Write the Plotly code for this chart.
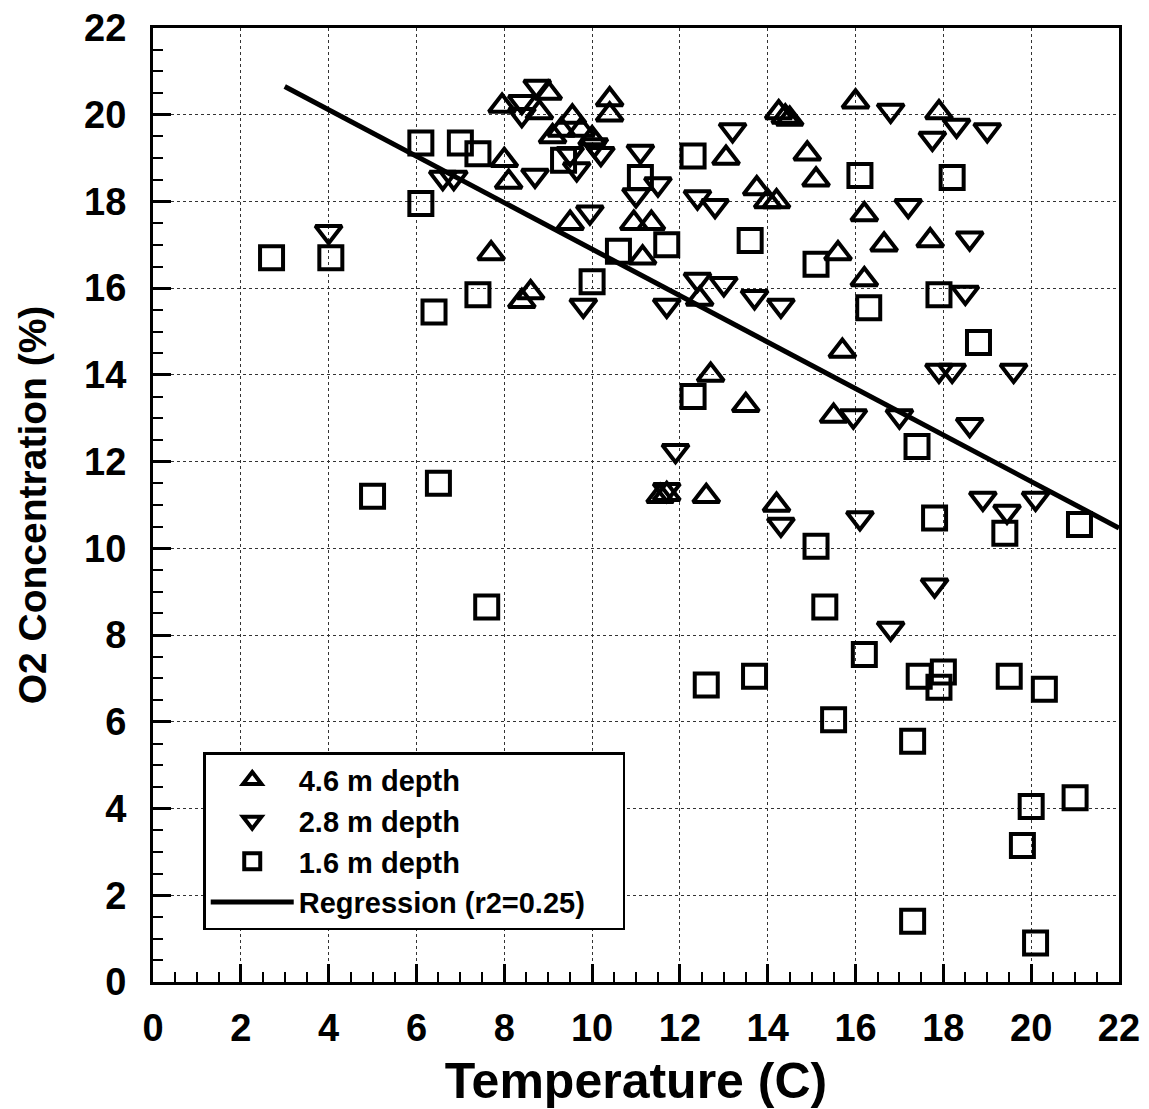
import plotly.graph_objects as go

# ---- data ----
up_x = [7.7, 7.95, 8.0, 8.1, 8.4, 8.6, 8.8, 9.0, 9.1, 9.3, 9.5, 9.55, 9.75, 10.0, 10.4, 10.4,
        10.95, 11.15, 11.35, 11.55, 11.7, 12.45, 12.6, 12.7, 13.05, 13.5, 13.75, 14.0, 14.2, 14.2,
        14.25, 14.4, 14.5, 14.9, 15.1, 15.5, 15.6, 15.7, 16.0, 16.2, 16.2, 16.65, 17.7, 17.9]
up_y = [16.8, 20.2, 18.95, 18.45, 15.7, 15.9, 20.05, 20.5, 19.5, 19.65, 17.5, 19.95, 19.65, 19.45, 20.35, 20.0,
        17.5, 16.7, 17.5, 11.2, 11.25, 15.75, 11.2, 14.0, 19.0, 13.3, 18.3, 18.0, 18.0, 11.0,
        20.05, 19.95, 19.9, 19.1, 18.5, 13.05, 16.8, 14.55, 20.3, 17.7, 16.2, 17.0, 17.1, 20.05]

down_x = [4.0, 6.6, 6.85, 8.4, 8.4, 8.7, 8.75, 9.5, 9.65, 9.8, 9.95, 10.05, 10.2, 11.0, 11.1, 11.5,
          11.7, 11.7, 11.9, 12.4, 12.4, 12.8, 13.0, 13.2, 13.7, 14.3, 14.3, 15.95, 16.1, 16.8, 16.8,
          17.0, 17.2, 17.75, 17.8, 17.9, 18.2, 18.3, 18.5, 18.6, 18.6, 18.9, 19.0, 19.45, 19.6, 20.1]
down_y = [17.3, 18.55, 18.55, 20.3, 20.0, 18.6, 20.65, 19.1, 18.75, 15.6, 17.75, 19.3, 19.1, 18.15, 19.15, 18.4,
          15.6, 11.35, 12.25, 18.1, 16.2, 17.9, 16.1, 19.65, 15.8, 15.6, 10.55, 13.05, 10.7, 20.1, 8.15,
          13.05, 17.9, 19.45, 9.15, 14.1, 14.1, 19.75, 15.9, 17.15, 12.85, 11.15, 19.65, 10.85, 14.1, 11.15]

sq_x = [2.7, 4.05, 5.0, 6.1, 6.1, 6.4, 6.5, 7.0, 7.4, 7.4, 7.6, 9.35, 10.0, 10.6, 11.1, 11.7,
        12.3, 12.3, 12.6, 13.6, 13.7, 15.1, 15.1, 15.3, 15.5, 16.1, 16.2, 16.3, 17.3, 17.3, 17.4,
        17.45, 17.8, 17.9, 17.9, 18.0, 18.2, 18.8, 19.4, 19.5, 19.8, 20.0, 20.1, 20.3, 21.0, 21.1]
sq_y = [16.7, 16.7, 11.2, 19.35, 17.95, 15.45, 11.5, 19.35, 19.1, 15.85, 8.65, 18.95, 16.15, 16.85, 18.55, 17.0,
        19.05, 13.5, 6.85, 17.1, 7.05, 16.55, 10.05, 8.65, 6.05, 18.6, 7.55, 15.55, 5.55, 1.4, 12.35,
        7.05, 10.7, 15.85, 6.8, 7.15, 18.55, 14.75, 10.35, 7.05, 3.15, 4.05, 0.9, 6.75, 4.25, 10.55]

reg_x = [3.0, 22.0]
reg_y = [20.65, 10.47]

tick_vals = [0, 2, 4, 6, 8, 10, 12, 14, 16, 18, 20, 22]
tick_text = [str(v) for v in tick_vals]

FONT = "Liberation Sans, Arial, Helvetica, sans-serif"
mk_line = dict(color="black", width=4)

fig = go.Figure()
fig.add_trace(go.Scatter(x=up_x, y=up_y, mode="markers", name="4.6 m depth",
                         marker=dict(symbol="triangle-up-open", size=23, color="black", line=mk_line)))
fig.add_trace(go.Scatter(x=down_x, y=down_y, mode="markers", name="2.8 m depth",
                         marker=dict(symbol="triangle-down-open", size=23, color="black", line=mk_line)))
fig.add_trace(go.Scatter(x=sq_x, y=sq_y, mode="markers", name="1.6 m depth",
                         marker=dict(symbol="square-open", size=23, color="black", line=mk_line)))
fig.add_trace(go.Scatter(x=reg_x, y=reg_y, mode="lines",
                         name="Regression (r2=0.25)\u00a0\u00a0\u00a0\u00a0",
                         line=dict(color="black", width=5)))

axis_common = dict(
    range=[0, 22], tickvals=tick_vals, ticktext=tick_text,
    ticks="inside", ticklen=18, tickwidth=3, tickcolor="black",
    minor=dict(dtick=0.5, ticks="inside", ticklen=10, tickwidth=2, tickcolor="black", showgrid=False),
    showgrid=True, gridcolor="#333333", gridwidth=1, griddash="dot",
    showline=True, linecolor="black", linewidth=3, mirror=True,
    zeroline=False, ticklabeloverflow="allow", automargin=False,
    tickfont=dict(family=FONT, size=38, color="black", weight="bold"),
)

fig.update_xaxes(**axis_common, ticklabelstandoff=10,
                 title=dict(text="Temperature (C)", standoff=18,
                            font=dict(family=FONT, size=50, color="black", weight="bold")))
fig.update_yaxes(**axis_common, ticklabelstandoff=16,
                 title=dict(text="O2 Concentration (%)", standoff=26,
                            font=dict(family=FONT, size=39, color="black", weight="bold")))

# the page body adds an 8 px offset, so the figure is sized to fit the window
fig.update_layout(
    width=1141, height=1101,
    margin=dict(l=145, r=30, t=20, b=127),
    paper_bgcolor="white", plot_bgcolor="white",
    showlegend=True,
    legend=dict(x=0.052, y=0.241, xanchor="left", yanchor="top",
                bgcolor="white", bordercolor="black", borderwidth=2.5,
                font=dict(family=FONT, size=29, color="black", weight="bold"),
                itemwidth=83, tracegroupgap=0),
)

fig.write_html("out.html")
